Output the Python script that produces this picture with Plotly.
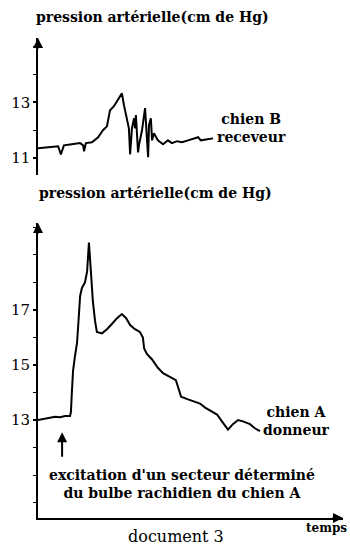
import plotly.graph_objects as go

# Chien A (donneur) - bottom panel
time_A = [0, 2.3, 3.9, 5.6, 7.2, 8.9, 10.5, 10.8, 11.1, 11.5, 12.1, 12.8, 13.4, 13.8, 14.4,
          15.4, 16.1, 16.7, 17.4, 18.0, 18.7, 19.3, 21.0, 22.6, 24.3, 25.9, 27.5, 28.9, 30.2,
          31.8, 33.4, 34.4, 34.8, 35.7, 37.4, 39.3, 41.0, 43.3, 45.2, 46.2, 46.9, 49.2, 51.5,
          53.1, 54.8, 56.4, 58.7, 60.3, 62.3, 63.9, 65.6, 67.2, 69.5, 71.1, 72.8]
pression_A = [13.0, 13.05, 13.1, 13.12, 13.1, 13.15, 13.15, 13.3, 14.0, 14.8, 15.3, 15.8, 16.8,
              17.5, 17.8, 18.0, 18.4, 19.45, 18.3, 17.3, 16.6, 16.2, 16.15, 16.3, 16.5, 16.7,
              16.85, 16.7, 16.45, 16.3, 16.2, 16.0, 15.6, 15.4, 15.2, 14.9, 14.7, 14.55, 14.45,
              14.1, 13.85, 13.75, 13.65, 13.6, 13.45, 13.35, 13.2, 12.95, 12.65, 12.85, 13.0,
              12.95, 12.85, 12.7, 12.6]

# Chien B (receveur) - top panel
time_B = [0, 2.3, 4.6, 6.6, 7.5, 8.5, 11.1, 13.8, 14.8, 15.1, 15.7, 17.7, 19.7, 21.3, 22.6,
          23.6, 24.9, 26.2, 27.5, 28.2, 29.2, 29.8, 30.2, 30.8, 31.5, 31.8, 32.1, 32.5, 32.8,
          33.1, 34.1, 35.1, 35.4, 35.7, 36.1, 36.4, 37.0, 37.4, 38.0, 39.3, 41.0, 42.6, 43.9,
          45.6, 47.2, 49.2, 50.8, 52.5, 53.4, 55.1, 57.4]
pression_B = [11.36, 11.39, 11.43, 11.43, 11.14, 11.46, 11.5, 11.54, 11.46, 11.25, 11.54,
              11.57, 11.75, 12.0, 12.14, 12.71, 12.86, 13.07, 13.32, 12.89, 12.36, 12.07,
              11.14, 12.07, 12.43, 12.07, 12.54, 11.64, 11.21, 11.46, 12.0, 12.79, 12.36,
              11.71, 11.04, 12.18, 12.43, 11.64, 11.89, 11.64, 11.5, 11.64, 11.54, 11.61,
              11.57, 11.64, 11.68, 11.75, 11.64, 11.68, 11.71]

ticks_A = [13, 15, 17]
ticks_B = [11, 13]
excitation_time = 7.9

SERIF = "DejaVu Serif, Liberation Serif, serif"
W, H = 350, 554

def px(x):
    return x / W

def py(y):
    return (H - y) / H

fig = go.Figure()
fig.add_trace(go.Scatter(x=time_A, y=pression_A, mode="lines",
                         line=dict(color="black", width=2), xaxis="x", yaxis="y",
                         showlegend=False, hoverinfo="skip"))
fig.add_trace(go.Scatter(x=time_B, y=pression_B, mode="lines",
                         line=dict(color="black", width=2), xaxis="x2", yaxis="y2",
                         showlegend=False, hoverinfo="skip"))

xdom = [px(38), px(343)]
yA_range = [9.44, 20.16]
yB_range = [10.4, 15.3]
x_range = [0, 100]

tickfont = dict(family=SERIF, size=15, color="black")
minor = dict(ticks="outside", ticklen=3, tickwidth=1, tickcolor="black", dtick=1, tick0=0,
             showgrid=False)

fig.update_layout(
    width=W, height=H,
    margin=dict(l=0, r=0, t=0, b=0),
    paper_bgcolor="white", plot_bgcolor="white",
    font=dict(family=SERIF, color="black"),
    xaxis=dict(domain=xdom, range=x_range, anchor="y", showline=True, showticklabels=False,
               ticks="", showgrid=False, zeroline=False, linecolor="black", linewidth=2),
    yaxis=dict(domain=[py(518), py(223)], range=yA_range, anchor="x", showline=True,
               linecolor="black", linewidth=2, showgrid=False, zeroline=False,
               tickvals=ticks_A, ticks="outside", ticklen=3, tickwidth=2, tickcolor="black",
               tickfont=tickfont, minor=minor),
    xaxis2=dict(domain=xdom, range=x_range, anchor="y2", visible=False),
    yaxis2=dict(domain=[py(175), py(38)], range=yB_range, anchor="x2", showline=True,
                linecolor="black", linewidth=1.5, showgrid=False, zeroline=False,
                tickvals=ticks_B, ticks="outside", ticklen=3, tickwidth=2, tickcolor="black",
                tickfont=tickfont, minor=minor),
)

bold = dict(family=SERIF, size=14, color="black")
ann = []
# titles
ann.append(dict(text="<b>pression artérielle(cm de Hg)</b>", xref="paper", yref="paper",
                x=px(34), y=py(17), xanchor="left", yanchor="middle", showarrow=False, font=bold))
ann.append(dict(text="<b>pression artérielle(cm de Hg)</b>", xref="paper", yref="paper",
                x=px(37), y=py(193), xanchor="left", yanchor="middle", showarrow=False, font=bold))
# series labels
ann.append(dict(text="<b>chien B<br>receveur</b>", xref="paper", yref="paper",
                x=px(251), y=py(128), xanchor="center", yanchor="middle", align="center",
                showarrow=False, font=bold))
ann.append(dict(text="<b>chien A<br>donneur</b>", xref="paper", yref="paper",
                x=px(296), y=py(421), xanchor="center", yanchor="middle", align="center",
                showarrow=False, font=bold))
# excitation note
ann.append(dict(text="<b>excitation d'un secteur déterminé<br>du bulbe rachidien du chien A</b>",
                xref="paper", yref="paper", x=px(182), y=py(484), xanchor="center",
                yanchor="middle", align="center", showarrow=False,
                font=dict(family=SERIF, size=14, color="black")))
ann.append(dict(text="", xref="x", yref="y", x=excitation_time, y=12.56, ax=0, ay=26,
                showarrow=True, arrowhead=2, arrowsize=1, arrowwidth=2, arrowcolor="black"))
# axis arrows
ann.append(dict(text="", xref="x", yref="y", x=0, y=yA_range[1], ax=0, ay=12,
                showarrow=True, arrowhead=2, arrowsize=1, arrowwidth=2, arrowcolor="black"))
ann.append(dict(text="", xref="x2", yref="y2", x=0, y=yB_range[1], ax=0, ay=12,
                showarrow=True, arrowhead=2, arrowsize=1, arrowwidth=2, arrowcolor="black"))
ann.append(dict(text="", xref="x", yref="y", x=x_range[1], y=yA_range[0], ax=-12, ay=0,
                showarrow=True, arrowhead=2, arrowsize=1, arrowwidth=2, arrowcolor="black"))
# axis name and caption
ann.append(dict(text="<b>temps</b>", xref="paper", yref="paper", x=px(349), y=py(528),
                xanchor="right", yanchor="middle", showarrow=False,
                font=dict(family=SERIF, size=12, color="black")))
ann.append(dict(text="document 3", xref="paper", yref="paper", x=px(176), y=py(536),
                xanchor="center", yanchor="middle", showarrow=False,
                font=dict(family=SERIF, size=16, color="black")))
fig.update_layout(annotations=ann)

fig.write_html("out.html", config={"displayModeBar": False},
               post_script="document.body.style.margin='0';document.body.style.overflow='hidden';")
